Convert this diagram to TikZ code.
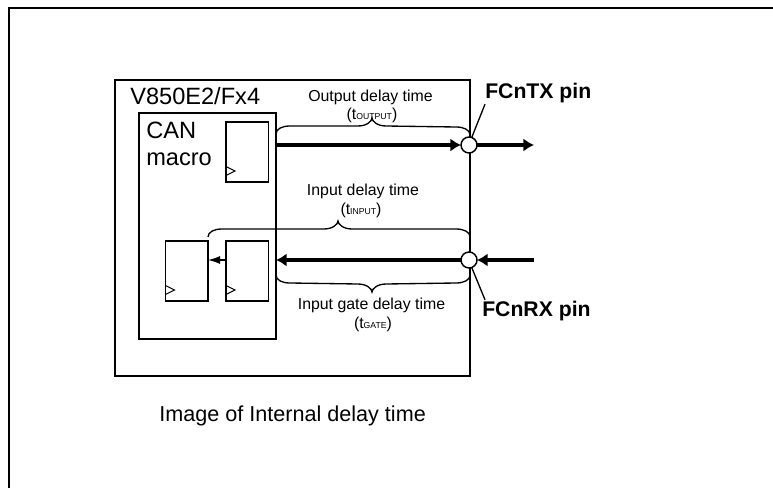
\documentclass[tikz,border=0pt]{standalone}
\usepackage{fontspec}
\setmainfont{Liberation Sans}
\usetikzlibrary{arrows.meta}
\def\px{0.75pt}
\newcommand{\subtext}[1]{{\fontsize{6.5pt}{7pt}\selectfont #1}}
% left end, tip, right end, side (1 up, -1 down)
\newcommand{\delaybrace}[4]{\draw[line width=1pt] (#1) .. controls +(0,-5*#4) and +(-8,0) .. ([shift={(14,-8*#4)}]#1)
	-- ([shift={(-14,8*#4)}]#2) .. controls +(9,0) and +(0,3*#4) .. (#2)
	.. controls +(0,3*#4) and +(-9,0) .. ([shift={(14,8*#4)}]#2)
	-- ([shift={(-14,-8*#4)}]#3) .. controls +(8,0) and +(0,-5*#4) .. (#3);}
\tikzset{
	boxline/.style={draw,line width=1.1pt,inner sep=0pt,outer sep=0pt},
	flipflop/.style={boxline,line width=0.95pt,fill=white,anchor=north west,minimum width=42.5*\px,minimum height=60*\px},
	pinring/.style={circle,draw,line width=1.1pt,fill=white,inner sep=0pt,outer sep=0pt,minimum size=16*\px},
	bigtext/.style={inner sep=0pt,anchor=west,font=\fontsize{17.7pt}{20pt}\selectfont},
	smalltext/.style={inner sep=0pt,font=\fontsize{11.9pt}{14pt}\selectfont},
	pinlabel/.style={inner sep=0pt,anchor=west,font=\fontsize{15.9pt}{18pt}\selectfont\bfseries},
	widewire/.style={line width=2.5pt,-{Latex[length=8pt,width=10pt]}},
}
\begin{document}
\begin{tikzpicture}[x=0.75pt,y=-0.75pt]
	\useasboundingbox (0,0) rectangle (773,488);
	% Frame of the page
	\draw[line width=1.1pt] (773,8) -- (9,8) -- (9,488);
	% Chip and macro
	\node[boxline,anchor=north west,minimum width=355*\px,minimum height=296*\px] (chip) at (115,80) {};
	\node[boxline,anchor=north west,minimum width=137*\px,minimum height=226*\px] (macro) at (139,113) {};
	% Flip-flops
	\node[flipflop] (ffout) at (226,122) {};
	\node[flipflop] (ffsync) at (226,241) {};
	\node[flipflop] (ffin) at (165.5,241) {};
	\foreach \ff in {ffout,ffsync,ffin}
		\draw[line width=0.8pt] (\ff.south west) ++(0,-6.5) -- ++(9,-4.5) -- ++(-9,-4.5);
	% Pins
	\node[pinring] (txpin) at (469,145) {};
	\node[pinring] (rxpin) at (469,260) {};
	\coordinate (txend) at (534,145);
	\coordinate (rxend) at (534,260);
	% Signal lines
	\draw[widewire] (macro.east |- txpin) -- (txpin.west);
	\draw[widewire,line width=2.3pt] (txpin.east) -- (txend);
	\draw[widewire,line width=2.3pt] (rxend) -- (rxpin.east);
	\draw[widewire] (rxpin.west) -- (macro.east |- rxpin);
	\draw[line width=1pt,-{Latex[length=9pt,width=6pt]}] (ffsync.west |- rxpin) -- (ffin.east |- rxpin);
	% Braces
	\coordinate (outleft) at (276,134);
	\coordinate (outtip) at (372,118);
	\coordinate (outright) at (470,135);
	\coordinate (inleft) at (208,237);
	\coordinate (intip) at (338,221);
	\coordinate (inright) at (470,237);
	\coordinate (gateleft) at (276,275);
	\coordinate (gatetip) at (372,292);
	\coordinate (gateright) at (470,275);
	\delaybrace{outleft}{outtip}{outright}{1}
	\delaybrace{inleft}{intip}{inright}{1}
	\delaybrace{gateleft}{gatetip}{gateright}{-1}
	% Leaders of the pin labels
	\node[pinlabel] (txlabel) at (485,93) {FCnTX pin};
	\node[pinlabel] (rxlabel) at (482,311) {FCnRX pin};
	\draw[line width=1pt] (txlabel.south west) ++(0,1) -- (txpin.70);
	\draw[line width=1pt] (rxlabel.north west) ++(3,-1) -- (rxpin.-70);
	% Texts
	\node[bigtext] (chipname) at (130,96) {V850E2/Fx4};
	\node[bigtext] (macroname) at (146,130) {CAN};
	\node[bigtext] (macronameb) at (146,159) {macro};
	\node[smalltext] (outdelay) at (370.5,97) {Output delay time};
	\node[smalltext] (outsymbol) at (372,115) {(t\subtext{OUTPUT})};
	\node[smalltext] (indelay) at (363,191) {Input delay time};
	\node[smalltext] (insymbol) at (361,210) {(t\subtext{INPUT})};
	\node[smalltext] (gatedelay) at (371.5,305) {Input gate delay time};
	\node[smalltext] (gatesymbol) at (373,324) {(t\subtext{GATE})};
	\node[inner sep=0pt,anchor=west,font=\fontsize{16.2pt}{18pt}\selectfont] (caption) at (159,416) {Image of Internal delay time};
\end{tikzpicture}
\end{document}
